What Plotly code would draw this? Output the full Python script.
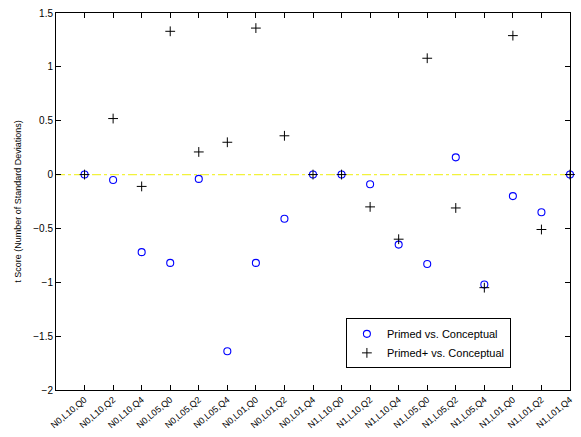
import plotly.graph_objects as go

categories = ["N0,L10,Q0", "N0,L10,Q2", "N0,L10,Q4", "N0,L05,Q0", "N0,L05,Q2", "N0,L05,Q4",
              "N0,L01,Q0", "N0,L01,Q2", "N0,L01,Q4", "N1,L10,Q0", "N1,L10,Q2", "N1,L10,Q4",
              "N1,L05,Q0", "N1,L05,Q2", "N1,L05,Q4", "N1,L01,Q0", "N1,L01,Q2", "N1,L01,Q4"]
primed = [0, -0.05, -0.72, -0.82, -0.04, -1.64, -0.82, -0.41, 0, 0,
          -0.09, -0.65, -0.83, 0.16, -1.02, -0.20, -0.35, 0]
primed_plus = [0, 0.52, -0.11, 1.33, 0.21, 0.30, 1.36, 0.36, 0, 0,
               -0.30, -0.60, 1.08, -0.31, -1.05, 1.29, -0.51, 0]
y_ticks = [-2, -1.5, -1, -0.5, 0, 0.5, 1, 1.5]

x = list(range(1, len(categories) + 1))
font = "Liberation Sans, Arial, sans-serif"

fig = go.Figure()
fig.add_trace(go.Scatter(x=[0, len(categories)], y=[0, 0], mode="lines",
                         line=dict(color="#f2f23c", width=1.2, dash="dashdot"),
                         showlegend=False, hoverinfo="skip"))
fig.add_trace(go.Scatter(x=x, y=primed, mode="markers", name="Primed vs. Conceptual",
                         marker=dict(symbol="circle-open", size=7, color="#0000ff",
                                     line=dict(width=1.1, color="#0000ff")),
                         cliponaxis=False))
fig.add_trace(go.Scatter(x=x, y=primed_plus, mode="markers", name="Primed+ vs. Conceptual",
                         marker=dict(symbol="cross-thin", size=7, color="black",
                                     line=dict(width=1, color="black")),
                         cliponaxis=False))

fig.update_layout(
    width=581, height=437,
    margin=dict(l=56, r=7, t=10, b=45),
    paper_bgcolor="white", plot_bgcolor="white",
    font=dict(family=font, size=10, color="black"),
    legend=dict(x=0.564, y=0.19, xanchor="left", yanchor="top",
                bordercolor="black", borderwidth=1, bgcolor="white",
                font=dict(size=11), tracegroupgap=0, itemwidth=30),
    xaxis=dict(range=[0, len(categories)], tickmode="array", tickvals=x, ticktext=categories,
               tickangle=-40, ticks="inside", ticklen=5, tickcolor="black",
               showline=True, linecolor="black", linewidth=1, mirror="ticks",
               showgrid=False, zeroline=False, tickfont=dict(size=9)),
    yaxis=dict(range=[-2, 1.5], tickmode="array", tickvals=y_ticks,
               ticks="inside", ticklen=5, tickcolor="black",
               showline=True, linecolor="black", linewidth=1, mirror="ticks",
               showgrid=False, zeroline=False, tickfont=dict(size=10),
               title=dict(text="t Score (Number of Standard Deviations)", font=dict(size=9), standoff=10)),
)

fig.write_html("out.html", config={"displayModeBar": False},
               post_script="document.body.style.margin='0';")
